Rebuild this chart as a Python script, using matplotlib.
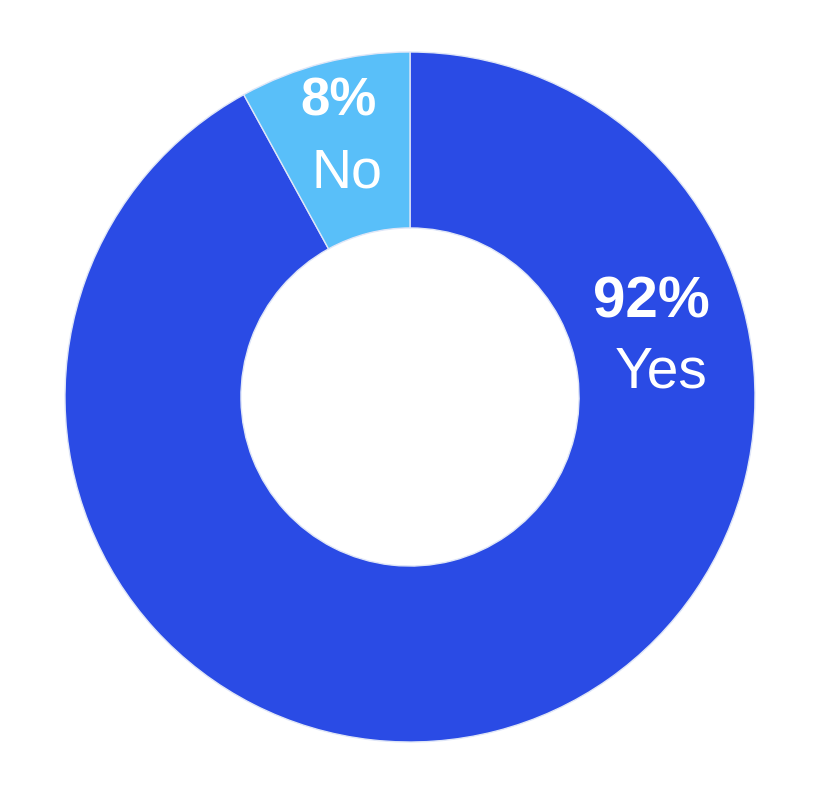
import matplotlib.pyplot as plt

labels = ['Yes', 'No']
values = [92, 8]
colors = ['#2a4be5', '#59bff9']

W, H = 820, 806
cx, cy, R = 410, 397, 345

fig = plt.figure(figsize=(W / 100, H / 100), dpi=100)
ax = fig.add_axes([0, 0, 1, 1])

ax.pie(values, colors=colors, startangle=90, counterclock=False, radius=1,
       wedgeprops=dict(width=0.51, edgecolor='#dfe6f7', linewidth=1))

def to_data(px, py):
    return (px - cx) / R, (cy - py) / R

# label anchors in pixels: (pct x, pct baseline, name x, name baseline, pct size, name size)
label_pos = {'Yes': (651, 317, 661, 388, 42, 41),
             'No': (339, 116, 347, 188, 38, 40)}
total = sum(values)
for lab, v in zip(labels, values):
    px1, py1, px2, py2, s1, s2 = label_pos[lab]
    x, y = to_data(px1, py1)
    ax.text(x, y, f'{round(v / total * 100)}%', ha='center', va='baseline',
            color='white', fontsize=s1, fontweight='bold', family='Liberation Sans')
    x, y = to_data(px2, py2)
    ax.text(x, y, lab, ha='center', va='baseline',
            color='white', fontsize=s2, family='Liberation Sans')

ax.set_xlim(-cx / R, (W - cx) / R)
ax.set_ylim(-(H - cy) / R, cy / R)
ax.axis('off')

fig.savefig('out.png', dpi=100)
